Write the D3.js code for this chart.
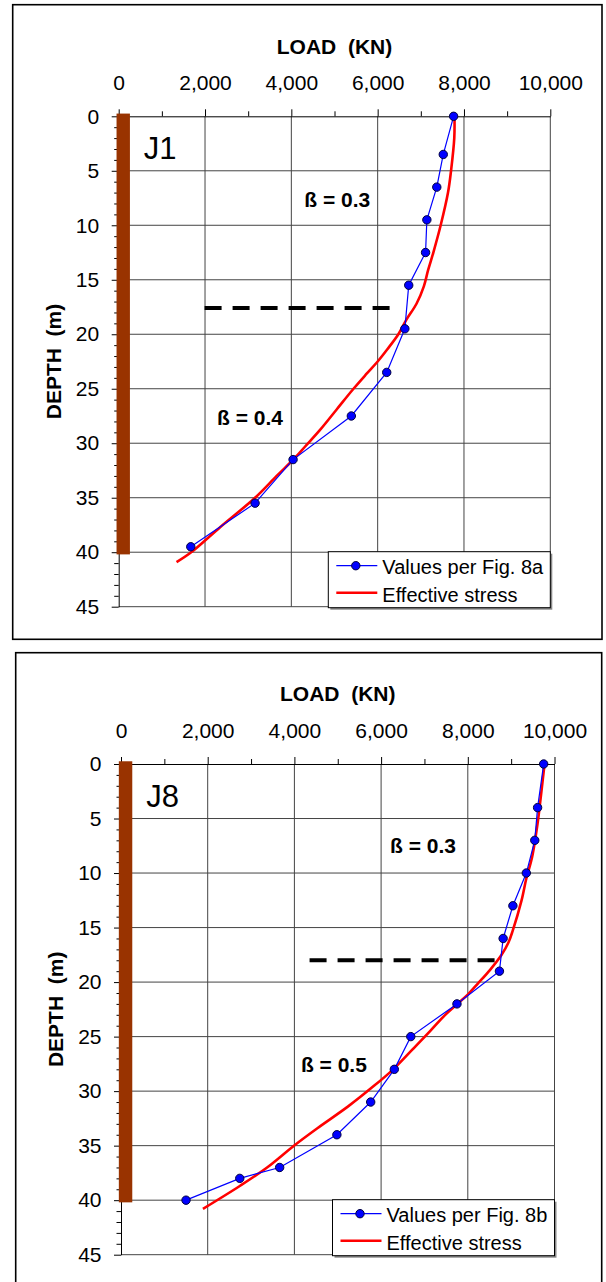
<!DOCTYPE html>
<html>
<head>
<meta charset="utf-8">
<script src="https://cdn.jsdelivr.net/npm/d3@7"></script>
<style>
  body { margin: 0; background: #fff; }
  text { font-family: Arial, "Liberation Sans", sans-serif; fill: #000; white-space: pre; }
</style>
</head>
<body>
<div id="chart"></div>
<script>
// Page size
var width = 606;
var height = 1282;

// Axis ticks
var loadTicks = [0, 2000, 4000, 6000, 8000, 10000];
var loadMinorTicks = [1000, 3000, 5000, 7000, 9000];
var depthTicks = [0, 5, 10, 15, 20, 25, 30, 35, 40, 45];
var depthMinorTicks = [1, 2, 3, 4, 6, 7, 8, 9, 11, 12, 13, 14, 16, 17, 18, 19, 21, 22, 23, 24,
                       26, 27, 28, 29, 31, 32, 33, 34, 36, 37, 38, 39, 41, 42, 43, 44];

// Pile (brown bar) extent in load / depth units
var pileLoad = [-50, 260];
var pileDepth = [-0.25, 40.2];

// J1 - values per Fig. 8a
var j1Depth = [0, 3.5, 6.5, 9.5, 12.5, 15.5, 19.5, 23.5, 27.5, 31.5, 35.5, 39.5];
var j1Load = [7760, 7520, 7370, 7140, 7110, 6720, 6630, 6210, 5390, 4040, 3160, 1670];
// J1 - effective stress
var j1StressDepth = [0, 2, 5, 7, 10, 12.5, 14.1, 15.6, 17.2, 18.7, 20, 21.4, 22.5, 23.6, 25, 26.9, 28.8, 30.3, 31.4, 33, 35, 37.7, 40, 40.9];
var j1StressLoad = [7780, 7775, 7700, 7630, 7460, 7290, 7170, 7070, 6900, 6660, 6480, 6220, 6000, 5750, 5440, 5050, 4660, 4320, 4070, 3660, 3160, 2350, 1680, 1340];
// J1 - dashed separation line and notes
var j1DashDepth = 17.6;
var j1DashLoad = [1990, 6290];
var j1Notes = ["ß = 0.3", "ß = 0.4"];
var j1NoteLoad = [4300, 2280];
var j1NoteDepth = [8.3, 28.3];

// J8 - values per Fig. 8b
var j8Depth = [0, 4, 7, 10, 13, 16, 19, 22, 25, 28, 31, 34, 37, 38, 40];
var j8Load = [9750, 9610, 9545, 9350, 9040, 8815, 8730, 7750, 6685, 6305, 5760, 4980, 3660, 2740, 1500];
// J8 - effective stress
var j8StressDepth = [0, 2.8, 5.3, 8.6, 10.5, 12.5, 15.3, 16.4, 17.5, 18.9, 20.1, 21.1, 22, 23, 24.5, 26.2, 28, 29.7, 31.4, 33.4, 35, 37, 38.7, 40.8];
var j8StressLoad = [9770, 9690, 9615, 9480, 9350, 9240, 9035, 8935, 8780, 8510, 8240, 8010, 7760, 7480, 7130, 6720, 6280, 5780, 5240, 4530, 3990, 3370, 2740, 1890];
// J8 - dashed separation line and notes
var j8DashDepth = 18;
var j8DashLoad = [4350, 8630];
var j8Notes = ["ß = 0.3", "ß = 0.5"];
var j8NoteLoad = [6205, 4150];
var j8NoteDepth = [8.2, 28.2];

var svg = d3.select("#chart")
    .append("svg")
    .attr("width", width)
    .attr("height", height);

function drawPanel(p) {
    var g = svg.append("g");

    // outer frame
    g.append("rect")
        .attr("x", p.box[0]).attr("y", p.box[1])
        .attr("width", p.box[2]).attr("height", p.box[3])
        .attr("fill", "#fff")
        .attr("stroke", "#000")
        .attr("stroke-width", 1.6);

    var x = d3.scaleLinear().domain([0, 10000]).range([p.left, p.right]);
    var y = d3.scaleLinear().domain([0, 45]).range([p.top, p.bottom]);

    // grid lines
    g.selectAll(".hgrid")
        .data(depthTicks.slice(1))
        .enter().append("line")
        .attr("x1", x(0)).attr("x2", x(10000))
        .attr("y1", function(d) { return y(d); })
        .attr("y2", function(d) { return y(d); })
        .attr("stroke", "#444").attr("stroke-width", 1);
    g.selectAll(".vgrid")
        .data(loadTicks.slice(1))
        .enter().append("line")
        .attr("y1", y(0)).attr("y2", y(45))
        .attr("x1", function(d) { return x(d); })
        .attr("x2", function(d) { return x(d); })
        .attr("stroke", "#444").attr("stroke-width", 1);

    // axes
    var top = g.append("g")
        .attr("transform", "translate(0," + y(0) + ")")
        .call(d3.axisTop(x).tickValues(loadTicks).tickFormat(d3.format(","))
            .tickSizeInner(7).tickSizeOuter(0).tickPadding(19));
    var topMinor = g.append("g")
        .attr("transform", "translate(0," + y(0) + ")")
        .call(d3.axisTop(x).tickValues(loadMinorTicks).tickFormat("").tickSize(5));
    var left = g.append("g")
        .attr("transform", "translate(" + x(0) + ",0)")
        .call(d3.axisLeft(y).tickValues(depthTicks).tickSizeInner(7).tickSizeOuter(0).tickPadding(12.5));
    var leftMinor = g.append("g")
        .attr("transform", "translate(" + x(0) + ",0)")
        .call(d3.axisLeft(y).tickValues(depthMinorTicks).tickFormat("").tickSize(4.5));
    topMinor.select(".domain").remove();
    leftMinor.select(".domain").remove();
    [top, topMinor, left, leftMinor].forEach(function(a) {
        a.selectAll("line").attr("stroke", "#000");
        a.select(".domain").attr("stroke", "#000");
        a.selectAll("text")
            .style("font-family", "Arial, 'Liberation Sans', sans-serif")
            .style("font-size", "21px")
            .attr("fill", "#000");
    });

    // axis titles
    g.append("text")
        .attr("x", (p.left + p.right) / 2)
        .attr("y", p.top - 62.8)
        .attr("text-anchor", "middle")
        .style("font-size", "21px").style("font-weight", "bold")
        .text("LOAD  (KN)");
    g.append("text")
        .attr("transform", "translate(" + (p.left - 58) + "," + ((p.top + p.bottom) / 2) + ") rotate(-90)")
        .attr("text-anchor", "middle")
        .style("font-size", "21px").style("font-weight", "bold")
        .text("DEPTH  (m)");

    // pile
    g.append("rect")
        .attr("x", x(pileLoad[0]))
        .attr("width", x(pileLoad[1]) - x(pileLoad[0]))
        .attr("y", y(pileDepth[0]))
        .attr("height", y(pileDepth[1]) - y(pileDepth[0]))
        .attr("fill", "#993300");

    // dashed line between beta zones
    g.append("line")
        .attr("x1", x(p.dashLoad[0])).attr("x2", x(p.dashLoad[1]))
        .attr("y1", y(p.dashDepth)).attr("y2", y(p.dashDepth))
        .attr("stroke", "#000").attr("stroke-width", 4)
        .attr("stroke-dasharray", "17,11");

    // effective stress curve
    var stress = p.stressDepth.map(function(d, i) { return [p.stressLoad[i], d]; });
    g.append("path")
        .datum(stress)
        .attr("d", d3.line()
            .x(function(d) { return x(d[0]); })
            .y(function(d) { return y(d[1]); })
            .curve(d3.curveCatmullRom))
        .attr("fill", "none")
        .attr("stroke", "#ff0000")
        .attr("stroke-width", 2.6);

    // measured values
    var vals = p.depth.map(function(d, i) { return [p.load[i], d]; });
    g.append("path")
        .datum(vals)
        .attr("d", d3.line()
            .x(function(d) { return x(d[0]); })
            .y(function(d) { return y(d[1]); }))
        .attr("fill", "none")
        .attr("stroke", "#0000ff")
        .attr("stroke-width", 1.2);
    g.selectAll(".pt")
        .data(vals)
        .enter().append("circle")
        .attr("cx", function(d) { return x(d[0]); })
        .attr("cy", function(d) { return y(d[1]); })
        .attr("r", 4.2)
        .attr("fill", "#0000ff")
        .attr("stroke", "#000040")
        .attr("stroke-width", 1);

    // panel name
    g.append("text")
        .attr("x", x(580)).attr("y", y(3.9))
        .style("font-size", "31px")
        .text(p.name);

    // beta notes
    p.notes.forEach(function(t, i) {
        g.append("text")
            .attr("x", x(p.noteLoad[i]))
            .attr("y", y(p.noteDepth[i]))
            .style("font-size", "21px").style("font-weight", "bold")
            .text(t);
    });

    // legend
    var lw = 222, lh = 56;
    var lx = p.right - lw, ly = p.bottom - lh + 1;
    var leg = g.append("g").attr("transform", "translate(" + lx + "," + ly + ")");
    leg.append("rect")
        .attr("x", 2).attr("y", 2).attr("width", lw).attr("height", lh)
        .attr("fill", "#888");
    leg.append("rect")
        .attr("width", lw).attr("height", lh)
        .attr("fill", "#fff").attr("stroke", "#000").attr("stroke-width", 1);
    leg.append("line")
        .attr("x1", 8).attr("x2", 49).attr("y1", 14).attr("y2", 14)
        .attr("stroke", "#0000ff").attr("stroke-width", 1.2);
    leg.append("circle")
        .attr("cx", 27.5).attr("cy", 14).attr("r", 4.2)
        .attr("fill", "#0000ff").attr("stroke", "#000040").attr("stroke-width", 1);
    leg.append("text")
        .attr("x", 54).attr("y", 22.5)
        .style("font-size", "20px")
        .text(p.legendLabel);
    leg.append("line")
        .attr("x1", 8).attr("x2", 49).attr("y1", 41).attr("y2", 41)
        .attr("stroke", "#ff0000").attr("stroke-width", 2.6);
    leg.append("text")
        .attr("x", 54).attr("y", 50)
        .style("font-size", "20px")
        .text("Effective stress");
}

drawPanel({
    box: [12.7, 4.7, 589.3, 634.6],
    left: 118.7, right: 550.3, top: 116.3, bottom: 606.7,
    name: "J1",
    depth: j1Depth, load: j1Load,
    stressDepth: j1StressDepth, stressLoad: j1StressLoad,
    dashDepth: j1DashDepth, dashLoad: j1DashLoad,
    notes: j1Notes, noteLoad: j1NoteLoad, noteDepth: j1NoteDepth,
    legendLabel: "Values per Fig. 8a"
});

drawPanel({
    box: [15.7, 652.7, 586, 640],
    left: 121, right: 554.5, top: 764, bottom: 1254.7,
    name: "J8",
    depth: j8Depth, load: j8Load,
    stressDepth: j8StressDepth, stressLoad: j8StressLoad,
    dashDepth: j8DashDepth, dashLoad: j8DashLoad,
    notes: j8Notes, noteLoad: j8NoteLoad, noteDepth: j8NoteDepth,
    legendLabel: "Values per Fig. 8b"
});
</script>
</body>
</html>
